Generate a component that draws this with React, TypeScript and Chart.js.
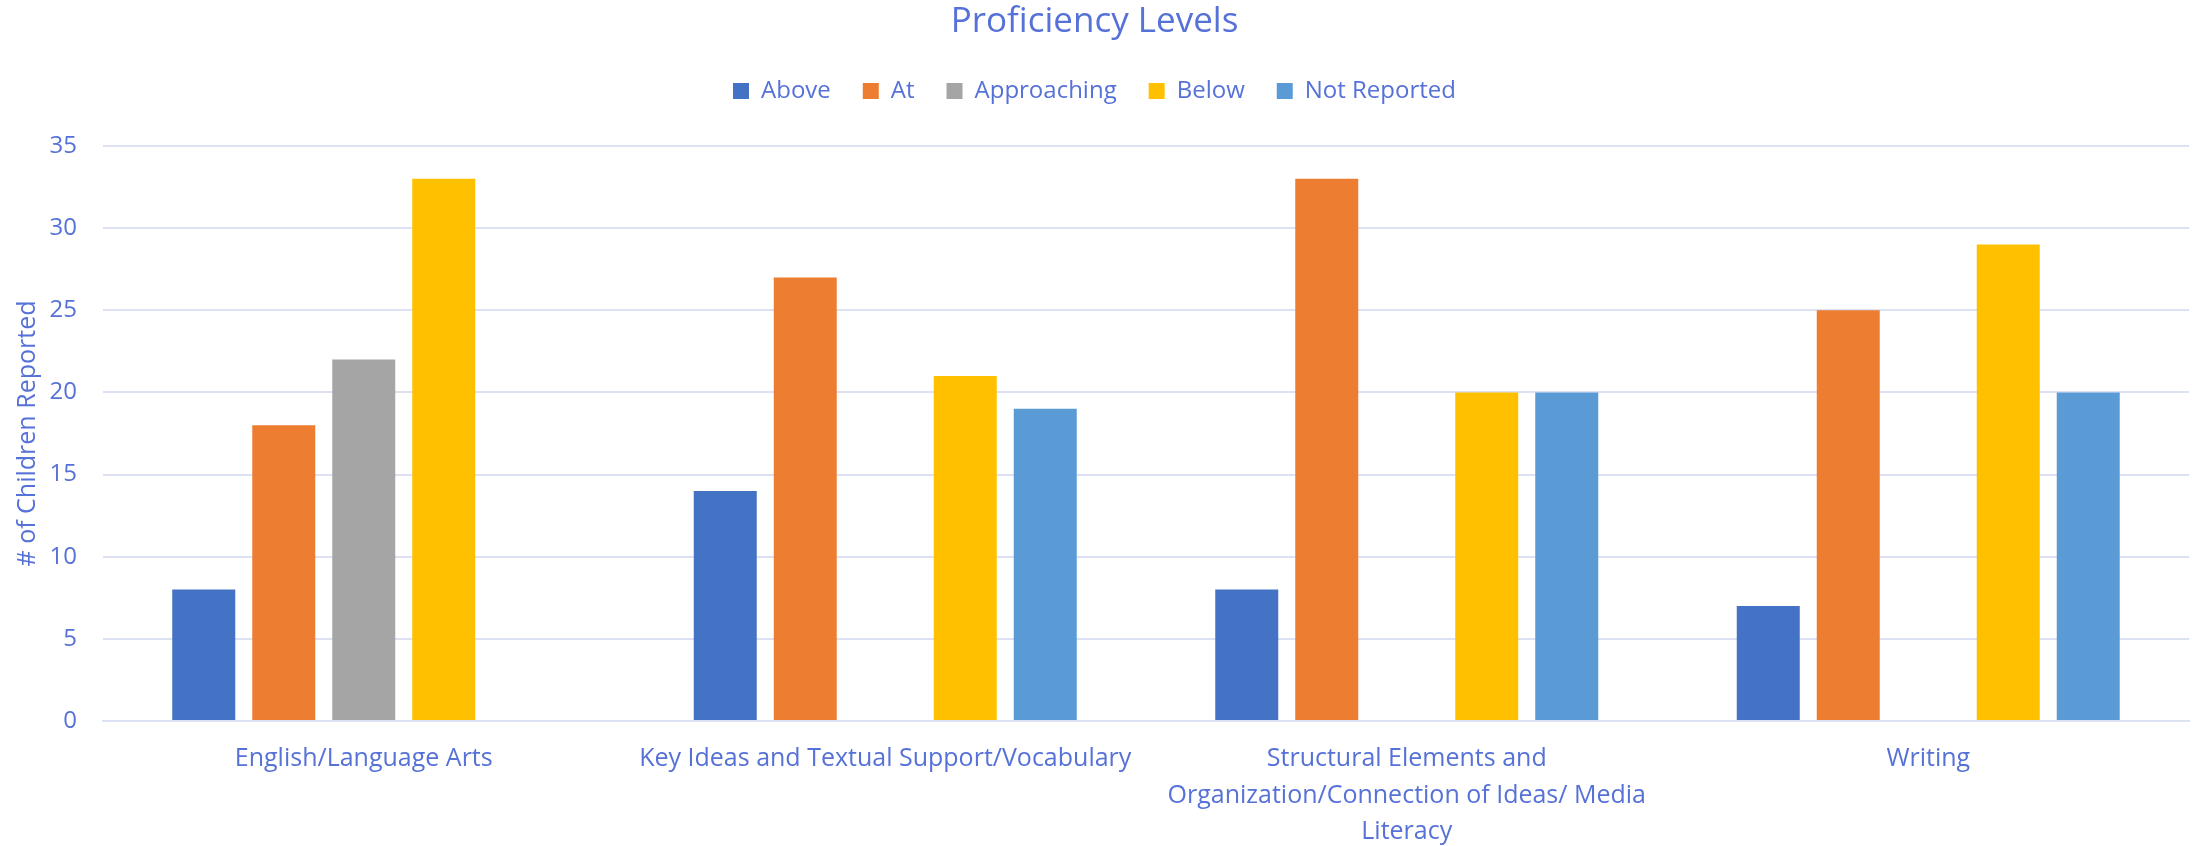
import React, { useEffect, useRef } from "react";
import { Chart, registerables } from "chart.js";

Chart.register(...registerables);

const categories: (string | string[])[] = [
  "English/Language Arts",
  "Key Ideas and Textual Support/Vocabulary",
  ["Structural Elements and", "Organization/Connection of Ideas/ Media", "Literacy"],
  "Writing",
];

const seriesNames = ["Above", "At", "Approaching", "Below", "Not Reported"];
const aboveValues = [8, 14, 8, 7];
const atValues = [18, 27, 33, 25];
const approachingValues = [22, null, null, null];
const belowValues = [33, 21, 20, 29];
const notReportedValues = [null, 19, 20, 20];
const seriesColors = ["#4472C4", "#ED7D31", "#A5A5A5", "#FFC000", "#5B9BD5"];

const yTicks = [0, 5, 10, 15, 20, 25, 30, 35];

const titleText = "Proficiency Levels";
const yAxisTitle = "# of Children Reported";

const TEXT = "#5671D7";
const GRID = "#DCE1F4";
const FONT = "'Open Sans', 'Noto Sans', sans-serif";

export default function App() {
  const ref = useRef<HTMLCanvasElement | null>(null);

  useEffect(() => {
    if (!ref.current) return;
    const values = [aboveValues, atValues, approachingValues, belowValues, notReportedValues];
    const legendSpacer = {
      id: "legendSpacer",
      beforeInit(chart: any) {
        const legend = chart.legend;
        if (!legend) return;
        const orig = legend.fit;
        legend.fit = function () {
          orig.call(this);
          this.height += 33;
        };
      },
    };
    const chart = new Chart(ref.current, {
      type: "bar",
      data: {
        labels: categories as any,
        datasets: seriesNames.map((name, i) => ({
          label: name,
          data: values[i] as any,
          backgroundColor: seriesColors[i],
          borderWidth: 0,
          categoryPercentage: 0.767,
          barPercentage: 0.7875,
        })),
      },
      options: {
        responsive: false,
        animation: false,
        layout: { padding: { left: 0, right: 11, top: 0, bottom: 0 } },
        plugins: {
          title: {
            display: true,
            text: titleText,
            color: TEXT,
            font: { family: FONT, size: 35, weight: "normal" as any, lineHeight: 1.2 },
            padding: { top: 1, bottom: 4 },
          },
          legend: {
            display: true,
            position: "top",
            labels: {
              color: TEXT,
              boxWidth: 16,
              boxHeight: 16,
              padding: 32,
              font: { family: FONT, size: 24 },
            },
          },
          tooltip: { enabled: false },
        },
        scales: {
          x: {
            grid: { display: false, drawTicks: false },
            border: { display: true, color: GRID, width: 2 },
            ticks: {
              color: TEXT,
              padding: 20,
              maxRotation: 0,
              autoSkip: false,
              font: { family: FONT, size: 25, lineHeight: 1.45 },
            },
            afterFit: (s: any) => {
              s.height = 125;
            },
          },
          y: {
            min: 0,
            max: 35,
            afterBuildTicks: (s: any) => {
              s.ticks = yTicks.map((v) => ({ value: v }));
            },
            grid: { color: GRID, lineWidth: 2, drawTicks: false },
            border: { display: false },
            ticks: {
              color: TEXT,
              padding: 26,
              font: { family: FONT, size: 24 },
            },
            title: {
              display: true,
              text: yAxisTitle,
              color: TEXT,
              font: { family: FONT, size: 25, lineHeight: 1.2 },
              padding: { top: 13, bottom: 0 },
            },
            afterFit: (s: any) => {
              s.width = 103;
            },
          },
        },
      },
      plugins: [legendSpacer],
    });
    return () => chart.destroy();
  }, []);

  return (
    <canvas
      ref={ref}
      width={2200}
      height={846}
      style={{ position: "absolute", left: 0, top: 0, width: 2200, height: 846, display: "block", background: "#fff" }}
    />
  );
}
